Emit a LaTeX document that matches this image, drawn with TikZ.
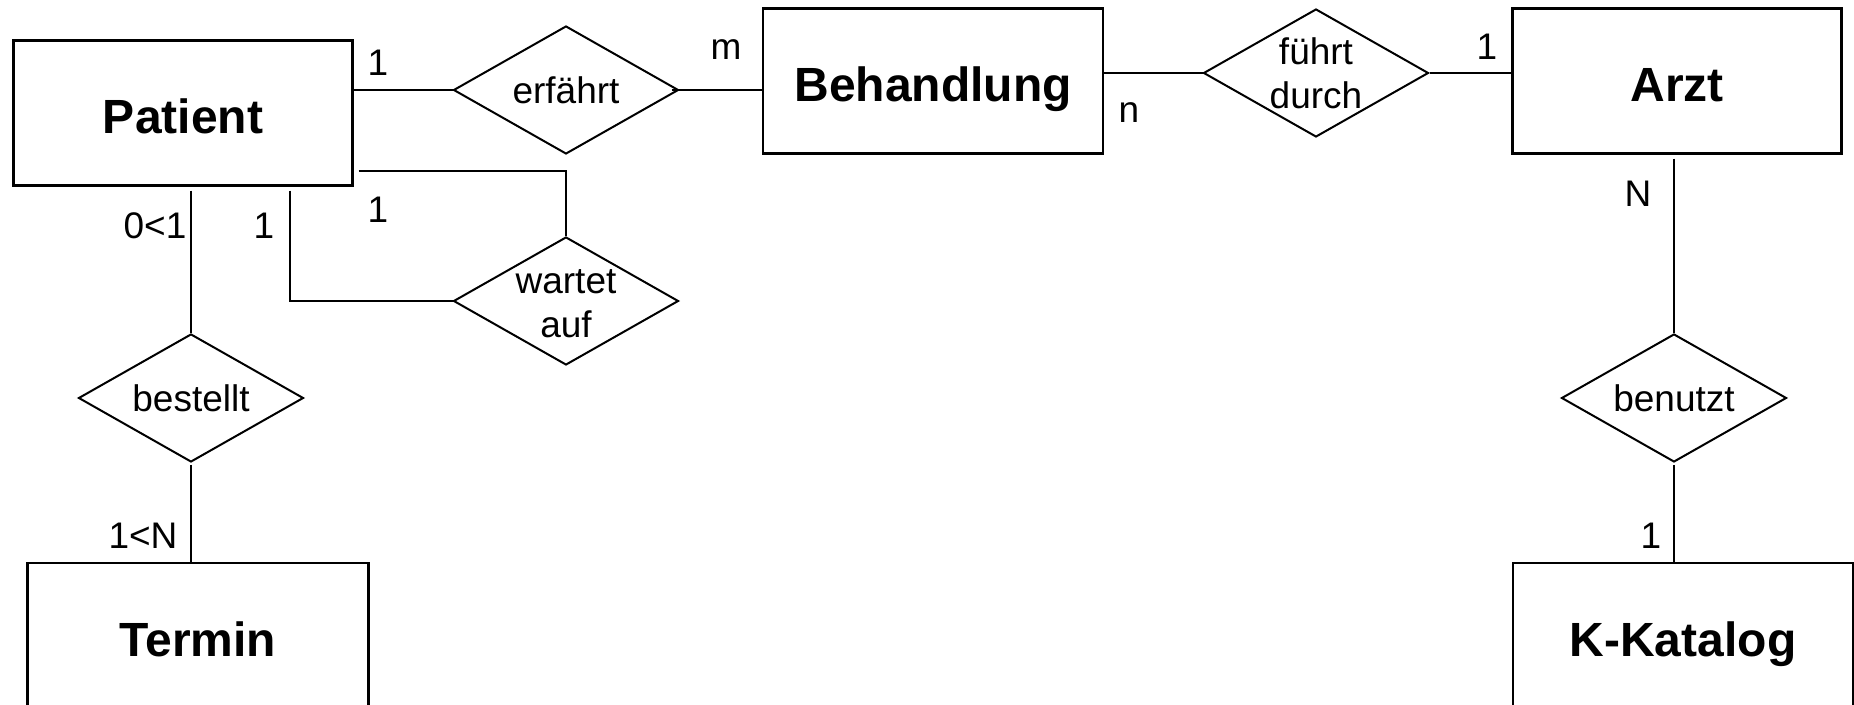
\documentclass[tikz,border=0pt]{standalone}
\usepackage{fontspec}
\setmainfont{Liberation Sans}
\usetikzlibrary{shapes.geometric}

\begin{document}
\begin{tikzpicture}[x=0.5pt,y=-0.5pt,
  ent/.style={draw,line width=1.2pt,minimum height=72.5pt,inner sep=0pt,text height=20.6pt,text depth=0pt,font=\bfseries\fontsize{24}{28}\selectfont},
  rel/.style={diamond,draw,line width=1pt,minimum width=112.5pt,minimum height=64pt,inner sep=0pt},
  rtext/.style={align=center,inner sep=0pt,font=\fontsize{18.5}{22}\selectfont},
  card/.style={inner sep=0pt,font=\fontsize{18.5}{21}\selectfont},
  conn/.style={line width=1pt}]
  \useasboundingbox (0,0) rectangle (1854,705);
  % entities
  \node[ent,minimum width=169.5pt] (pat) at (183,113) {Patient};
  \node[ent,minimum width=170pt] (beh) at (933,81) {Behandlung};
  \node[ent,minimum width=164.5pt] (arzt) at (1677,81) {Arzt};
  \node[ent,minimum width=170.5pt] (term) at (198,635.5) {Termin};
  \node[ent,minimum width=170pt] (kat) at (1683,635.5) {K-Katalog};
  % relationships
  \node[rel,label={[rtext]center:erfährt}] (erf) at (566,90) {};
  \node[rel,label={[rtext]center:führt\\durch}] (fue) at (1316,73) {};
  \node[rel,label={[rtext,yshift=-1.5pt]center:wartet\\auf}] (wart) at (566,301) {};
  \node[rel,label={[rtext]center:bestellt}] (best) at (191,398) {};
  \node[rel,label={[rtext]center:benutzt}] (ben) at (1674,398) {};
  % connectors
  \draw[conn] (pat.east |- erf.west) -- (erf.west);
  \draw[conn] ([xshift=-4pt]erf.east) -- (erf.east -| beh.west);
  \draw[conn] (beh.east |- fue.west) -- (fue.west);
  \draw[conn] (fue.east) -- (fue.east -| arzt.west);
  \draw[conn] ([yshift=-2pt]arzt.south -| ben.north) -- (ben.north);
  \draw[conn] ([yshift=-1pt]ben.south) -- (ben.south |- kat.north);
  \draw[conn] ([yshift=-2pt]pat.south -| best.north) -- (best.north);
  \draw[conn] ([yshift=-1pt]best.south) -- (best.south |- term.north);
  \coordinate (wbend) at (290,301);
  \draw[conn] ([yshift=-2pt]pat.south -| wbend) -- (wbend) -- (wart.west);
  \coordinate (wcorner) at (566,171);
  \draw[conn] ([xshift=2.5pt]pat.east |- wcorner) -- (wcorner) -- (wart.north);
  % cardinalities
  \node[card] (c1) at (378,63) {1};
  \node[card] (cm) at (726,50) {m};
  \node[card] (cn) at (1129,113) {n};
  \node[card] (c2) at (1487,47) {1};
  \node[card] (cN) at (1638,194) {N};
  \node[card] (c3) at (1651,536) {1};
  \node[card] (c01) at (155,226) {0<1};
  \node[card] (c1N) at (143,536) {1<N};
  \node[card] (c4) at (264,226) {1};
  \node[card] (c5) at (378,210) {1};
\end{tikzpicture}
\end{document}
